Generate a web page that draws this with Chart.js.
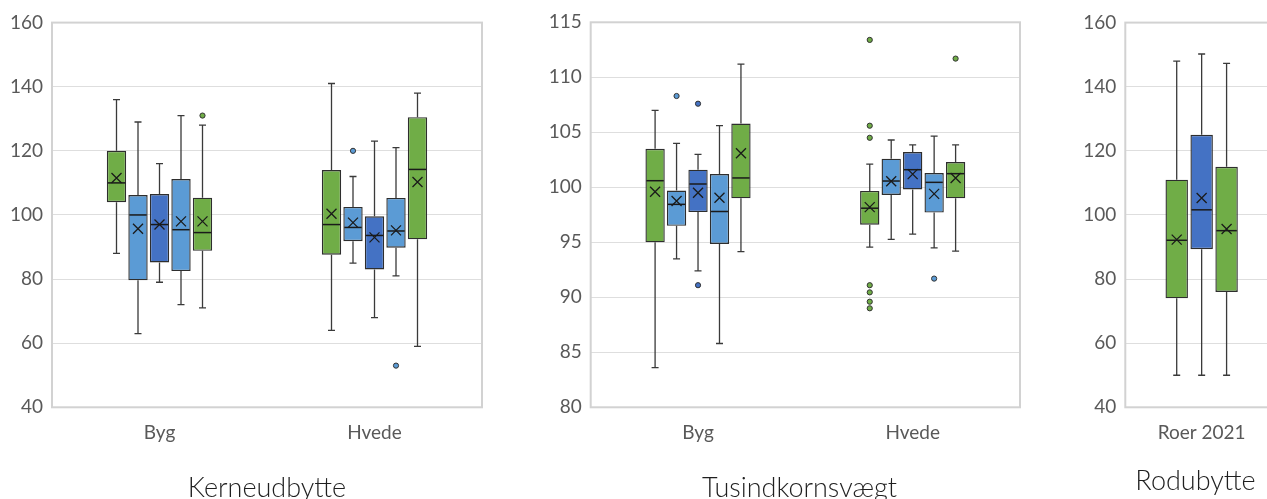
<!DOCTYPE html>
<html><head><meta charset="utf-8">
<script src="https://cdn.jsdelivr.net/npm/chart.js@4.4.1/dist/chart.umd.min.js"></script>
<style>
html,body{margin:0;padding:0;width:1267px;height:499px;overflow:hidden;background:#fff;}
canvas{position:absolute;top:0;}
</style></head><body>
<canvas id="c1" width="534" height="530" style="left:0px"></canvas>
<canvas id="c2" width="519" height="530" style="left:540px"></canvas>
<canvas id="c3" width="271" height="530" style="left:1060px"></canvas>
<script>
// ---------- colours ----------
const GREEN = '#70AD47', LBLUE = '#5B9BD5', BLUE = '#4472C4';

// ---------- Panel 1: Kerneudbytte (series x category) ----------
const kerneCategories = ['Byg', 'Hvede'];
const kerneColors = [GREEN, LBLUE, BLUE, LBLUE, GREEN];
const kerneMin  = [[88, 64], [63, 85], [79, 68], [72, 81], [71, 59]];
const kerneQ1   = [[104, 87.6], [79.6, 91.8], [85.2, 83], [82.5, 89.8], [88.8, 92.4]];
const kerneMed  = [[110, 97], [100, 96.1], [97, 93.6], [95.4, 95], [94.5, 114.2]];
const kerneQ3   = [[120, 114], [106.2, 102.5], [106.5, 99.6], [111.2, 105.3], [105.4, 130.5]];
const kerneMax  = [[136, 141], [129, 112], [116, 123], [131, 121], [128, 138]];
const kerneMean = [[111.5, 100.4], [95.7, 97.6], [97, 93], [98, 95.2], [98, 110.3]];
const kerneOut  = [[[], []], [[], [120]], [[], []], [[], [53]], [[131], []]];
const kerneTicks = [40, 60, 80, 100, 120, 140, 160];

// ---------- Panel 2: Tusindkornsvægt ----------
const tusCategories = ['Byg', 'Hvede'];
const tusColors = [GREEN, LBLUE, BLUE, LBLUE, GREEN];
const tusMin  = [[83.6, 94.57], [93.5, 95.27], [92.4, 95.75], [85.8, 94.5], [94.15, 94.2]];
const tusQ1   = [[95, 96.6], [96.5, 99.3], [97.75, 99.8], [94.85, 97.7], [99, 99]];
const tusMed  = [[100.6, 98.1], [98.45, 100.57], [100.3, 101.6], [97.8, 100.45], [100.85, 101.24]];
const tusQ3   = [[103.5, 99.67], [99.7, 102.6], [101.6, 103.2], [101.2, 101.3], [105.8, 102.3]];
const tusMax  = [[107, 102.1], [104, 104.3], [103, 103.85], [105.6, 104.66], [111.2, 103.85]];
const tusMean = [[99.6, 98.2], [98.75, 100.55], [99.5, 101.2], [99.05, 99.4], [103.1, 100.85]];
const tusOut  = [[[], [113.4, 105.6, 104.5, 91.1, 90.45, 89.6, 89.0]], [[108.3], []], [[107.6, 91.1], []], [[], [91.7]], [[], [111.7]]];
const tusTicks = [80, 85, 90, 95, 100, 105, 110, 115];

// ---------- Panel 3: Rodubytte ----------
const rodCategories = ['Roer 2021'];
const rodColors = [GREEN, BLUE, GREEN];
const rodMin  = [[50], [50], [50]];
const rodQ1   = [[74], [89.3], [76]];
const rodMed  = [[92.1], [101.6], [95.1]];
const rodQ3   = [[111], [125], [115]];
const rodMax  = [[148], [150.2], [147.3]];
const rodMean = [[92.3], [105.3], [95.6]];
const rodOut  = [[[]], [[]], [[]]];
const rodTicks = [40, 60, 80, 100, 120, 140, 160];

const FONT = 'Lato, "Open Sans", sans-serif';

const boxPlugin = {
  id: 'boxExtras',
  beforeDatasetsDraw(chart) {
    const a = chart.chartArea, ctx = chart.ctx;
    ctx.save();
    ctx.strokeStyle = '#D2D2D2';
    ctx.lineWidth = 2;
    ctx.strokeRect(a.left, a.top, a.right - a.left, a.bottom - a.top);
    ctx.restore();
  },
  afterDatasetsDraw(chart) {
    const ctx = chart.ctx, ys = chart.scales.y;
    const P = v => ys.getPixelForValue(v);
    chart.data.datasets.forEach((ds, i) => {
      const meta = chart.getDatasetMeta(i);
      meta.data.forEach((el, j) => {
        const st = ds.stats;
        const x = el.x, hw = el.width / 2;
        const q1 = P(st.q1[j]), q3 = P(st.q3[j]);
        const lo = P(st.min[j]), hi = P(st.max[j]);
        ctx.save();
        // whiskers
        ctx.strokeStyle = '#3a3a3a';
        ctx.lineWidth = 1.3;
        ctx.beginPath();
        ctx.moveTo(x, hi); ctx.lineTo(x, q3);
        ctx.moveTo(x, q1); ctx.lineTo(x, lo);
        ctx.moveTo(x - 3.5, hi); ctx.lineTo(x + 3.5, hi);
        ctx.moveTo(x - 3.5, lo); ctx.lineTo(x + 3.5, lo);
        ctx.stroke();
        // median
        const m = P(st.med[j]);
        ctx.strokeStyle = '#1a1a1a';
        ctx.lineWidth = 1.5;
        ctx.beginPath();
        ctx.moveTo(x - hw + 1, m); ctx.lineTo(x + hw - 1, m);
        ctx.stroke();
        // mean X
        const mv = P(st.mean[j]);
        ctx.lineWidth = 1.3;
        ctx.beginPath();
        ctx.moveTo(x - 5, mv - 5); ctx.lineTo(x + 5, mv + 5);
        ctx.moveTo(x - 5, mv + 5); ctx.lineTo(x + 5, mv - 5);
        ctx.stroke();
        // outliers
        ctx.fillStyle = ds.backgroundColor;
        ctx.strokeStyle = '#333';
        ctx.lineWidth = 1;
        st.out[j].forEach(v => {
          ctx.beginPath();
          ctx.arc(x, P(v), 2.6, 0, Math.PI * 2);
          ctx.fill(); ctx.stroke();
        });
        ctx.restore();
      });
    });
  }
};

function makeChart(id, cfg) {
  const datasets = cfg.colors.map((c, s) => ({
    data: cfg.categories.map((_, j) => [cfg.q1[s][j], cfg.q3[s][j]]),
    backgroundColor: c,
    borderColor: '#2e2e2e',
    borderWidth: 1.4,
    borderSkipped: false,
    categoryPercentage: cfg.catPct,
    barPercentage: 0.9,
    stats: { min: cfg.min[s], q1: cfg.q1[s], med: cfg.med[s], q3: cfg.q3[s], max: cfg.max[s], mean: cfg.mean[s], out: cfg.out[s] }
  }));
  return new Chart(document.getElementById(id), {
    type: 'bar',
    data: { labels: cfg.categories, datasets },
    plugins: [boxPlugin],
    options: {
      responsive: false,
      animation: false,
      devicePixelRatio: 1,
      layout: { padding: { top: cfg.top, left: 0, right: 0, bottom: 0 } },
      plugins: {
        legend: { display: false },
        tooltip: { enabled: false },
        title: {
          display: true, position: 'bottom', text: cfg.title,
          color: '#1f1f1f',
          font: { family: FONT, size: 27, weight: '300', lineHeight: 1.2 },
          padding: { top: 0, bottom: cfg.titleBottom }
        }
      },
      scales: {
        x: {
          grid: { display: false, drawTicks: false },
          border: { display: false },
          ticks: { color: '#595959', font: { family: FONT, size: 19 }, padding: 14 },
          afterFit: s => { s.height = cfg.xh; }
        },
        y: {
          min: cfg.ticks[0], max: cfg.ticks[cfg.ticks.length - 1],
          afterBuildTicks: s => { s.ticks = cfg.ticks.map(v => ({ value: v })); },
          grid: { color: '#DEDEDE', lineWidth: 1, drawTicks: false },
          border: { display: false },
          ticks: { color: '#595959', font: { family: FONT, size: 19 }, padding: 9 },
          afterFit: s => { s.width = cfg.yw; }
        },
        yR: {
          position: 'right', display: true,
          grid: { display: false, drawTicks: false },
          border: { display: false },
          ticks: { display: false },
          afterFit: s => { s.width = cfg.rw; }
        }
      }
    }
  });
}

makeChart('c1', {
  categories: kerneCategories, colors: kerneColors,
  min: kerneMin, q1: kerneQ1, med: kerneMed, q3: kerneQ3, max: kerneMax, mean: kerneMean, out: kerneOut,
  ticks: kerneTicks, title: 'Kerneudbytte', catPct: 0.5,
  top: 22.6, yw: 52, rw: 52, titleBottom: 25.1, xh: 65.2
});
makeChart('c2', {
  categories: tusCategories, colors: tusColors,
  min: tusMin, q1: tusQ1, med: tusMed, q3: tusQ3, max: tusMax, mean: tusMean, out: tusOut,
  ticks: tusTicks, title: 'Tusindkornsvægt', catPct: 0.5,
  top: 22.3, yw: 50.7, rw: 39, titleBottom: 25.1, xh: 65.2
});
makeChart('c3', {
  categories: rodCategories, colors: rodColors,
  min: rodMin, q1: rodQ1, med: rodMed, q3: rodQ3, max: rodMax, mean: rodMean, out: rodOut,
  ticks: rodTicks, title: 'Rodubytte', catPct: 0.49,
  top: 22.6, yw: 65.3, rw: 53, titleBottom: 32.5, xh: 57.8
});
</script>
</body></html>
